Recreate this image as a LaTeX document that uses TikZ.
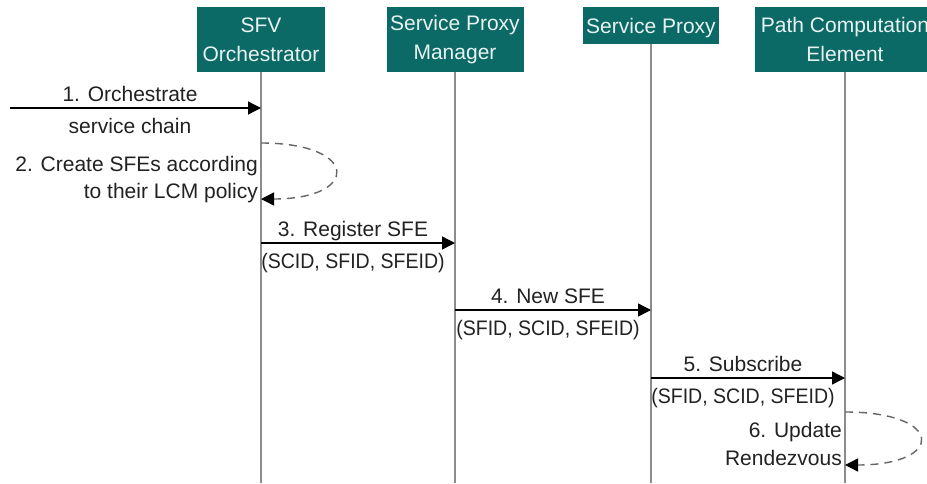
\documentclass[tikz,border=0pt]{standalone}
\usepackage{fontspec}
\setmainfont{Liberation Sans}
\newfontfamily\idfamily{Liberation Sans}[FakeStretch=0.93]
\usetikzlibrary{arrows.meta,calc}
\definecolor{hdr}{HTML}{0B6966}
\definecolor{hdrtext}{HTML}{E8F3F1}
\definecolor{lifegray}{HTML}{8C8C8C}
\definecolor{loopgray}{HTML}{666666}
\definecolor{txt}{HTML}{222222}
\newcommand\hdrfont{\fontsize{21}{29}\selectfont}
\newcommand\msgfont{\fontsize{21}{27}\selectfont}
\begin{document}
\begin{tikzpicture}[x=1pt,y=-1pt,
  actor/.style={fill=hdr, text=hdrtext, font=\hdrfont, align=center, inner sep=0pt, anchor=north},
  lifeline/.style={draw=lifegray, line width=2.4pt},
  msg/.style={draw=black, line width=1.4pt, -{Triangle[length=13pt,width=13pt]}},
  selfmsg/.style={draw=loopgray, line width=1.4pt, dash pattern=on 8pt off 6pt, -{Triangle[length=13pt,width=13pt,color=black]}},
  lbl/.style={font=\msgfont, text=txt, inner sep=0pt, anchor=base},
  idlbl/.style={lbl, font=\msgfont\idfamily},
  lblr/.style={lbl, anchor=base east},
]
\fill[white] (0,0) rectangle (927,483);
\useasboundingbox (0,0) rectangle (927,483);

% participants
\node[actor, minimum width=128pt, minimum height=65pt] (orch) at (261,7) {SFV\\Orchestrator};
\node[actor, minimum width=137pt, minimum height=65pt] (spm) at (455,7) {Service Proxy\\Manager};
\node[actor, minimum width=136pt, minimum height=37pt, text depth=0pt] (sp) at (651,7) {Service Proxy};
\node[actor, minimum width=180pt, minimum height=65pt] (pce) at (845,7) {Path Computation\\Element};

% lifelines
\coordinate (orchEnd) at (orch.south |- 0,483);
\coordinate (spmEnd) at (spm.south |- 0,483);
\coordinate (spEnd) at (sp.south |- 0,483);
\coordinate (pceEnd) at (pce.south |- 0,483);
\draw[lifeline] (orch.south) -- (orchEnd);
\draw[lifeline] (spm.south) -- (spmEnd);
\draw[lifeline] (sp.south) -- (spEnd);
\draw[lifeline] (pce.south) -- (pceEnd);

% 1. external request
\coordinate (m1s) at (10,108);
\coordinate (m1e) at (orch.south |- 0,108);
\draw[msg] (m1s) -- (m1e);
\node[lbl] (l1a) at (130,101) {1. Orchestrate};
\node[lbl] (l1b) at (130,133) {service chain};

% 2. self call on the orchestrator
\coordinate (m2s) at (orch.south |- 0,143);
\coordinate (m2e) at (orch.south |- 0,199);
\draw[selfmsg] (m2s) .. controls (360,143) and (360,199) .. (m2e);
\node[lblr] (l2a) at (258,171) {2. Create SFEs according};
\node[lblr] (l2b) at (258,198) {to their LCM policy};

% 3. register
\coordinate (m3s) at (orch.south |- 0,243);
\coordinate (m3e) at (spm.south |- 0,243);
\draw[msg] (m3s) -- (m3e);
\node[lbl] (l3a) at ($(m3s)!0.5!(m3e)+(-5,-7)$) {3. Register SFE};
\node[idlbl] (l3b) at ($(m3s)!0.5!(m3e)+(-5,25)$) {(SCID, SFID, SFEID)};

% 4. new SFE
\coordinate (m4s) at (spm.south |- 0,310);
\coordinate (m4e) at (sp.south |- 0,310);
\draw[msg] (m4s) -- (m4e);
\node[lbl] (l4a) at ($(m4s)!0.5!(m4e)+(-5,-7)$) {4. New SFE};
\node[idlbl] (l4b) at ($(m4s)!0.5!(m4e)+(-5,25)$) {(SFID, SCID, SFEID)};

% 5. subscribe
\coordinate (m5s) at (sp.south |- 0,378);
\coordinate (m5e) at (pce.south |- 0,378);
\draw[msg] (m5s) -- (m5e);
\node[lbl] (l5a) at ($(m5s)!0.5!(m5e)+(-5,-7)$) {5. Subscribe};
\node[idlbl] (l5b) at ($(m5s)!0.5!(m5e)+(-5,25)$) {(SFID, SCID, SFEID)};

% 6. self call on the PCE
\coordinate (m6s) at (pce.south |- 0,412);
\coordinate (m6e) at (pce.south |- 0,465);
\draw[selfmsg] (m6s) .. controls (945,412) and (945,465) .. (m6e);
\node[lblr] (l6a) at (842,437) {6. Update};
\node[lblr] (l6b) at (842,465) {Rendezvous};
\end{tikzpicture}
\end{document}
